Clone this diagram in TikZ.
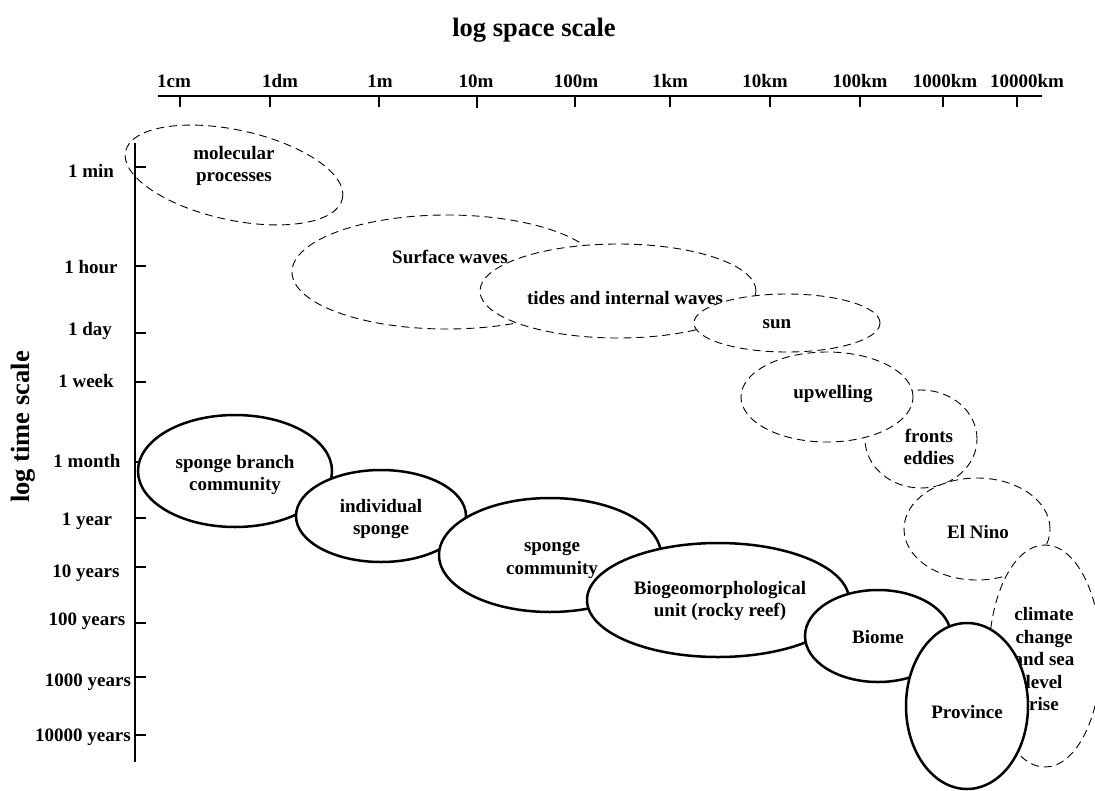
\documentclass[tikz,border=0pt]{standalone}
\usepackage{fontspec}
\setmainfont{Liberation Serif}

\begin{document}
\begin{tikzpicture}[
  x=1pt, y=-1pt,
  lbl/.style={font=\fontsize{19}{22.5}\selectfont\bfseries, align=center, inner sep=0pt},
  ttl/.style={font=\fontsize{26.5}{30}\selectfont\bfseries, inner sep=0pt},
  axis/.style={line width=2.6pt},
  proc/.style={draw=black, fill=white, line width=0.9pt, dash pattern=on 8pt off 5pt},
  habitat/.style={draw=black, fill=white, line width=2.5pt}
]
\useasboundingbox (0,0) rectangle (1095,790);

% Titles
\node[ttl] (xtitle) at (534,30) {log space scale};
\node[ttl, rotate=90] (ytitle) at (23,427) {log time scale};

% Physical processes (dashed)
\path[proc] (234,175) ellipse [x radius=111pt, y radius=45pt, rotate=-12.3];
\node[lbl] (molec) at (234,166) {molecular\\processes};

% Space axis
\draw[axis] (158,96) -- (1042,96);
\draw[axis] (180,96) -- (180,107);
\draw[axis] (270,96) -- (270,107);
\draw[axis] (379,96) -- (379,107);
\draw[axis] (477,96) -- (477,108);
\draw[axis] (575,96) -- (575,107);
\draw[axis] (670,96) -- (670,107);
\draw[axis] (770,96) -- (770,107);
\draw[axis] (860,96) -- (860,107);
\draw[axis] (943,96) -- (943,107);
\draw[axis] (1017,96) -- (1017,107);
\node[lbl, anchor=base] (cm) at (174,87) {1cm};
\node[lbl, anchor=base] (dm) at (280,87) {1dm};
\node[lbl, anchor=base] (m1) at (380,87) {1m};
\node[lbl, anchor=base] (m10) at (476,87) {10m};
\node[lbl, anchor=base] (m100) at (576,87) {100m};
\node[lbl, anchor=base] (km1) at (670,87) {1km};
\node[lbl, anchor=base] (km10) at (765,87) {10km};
\node[lbl, anchor=base] (km100) at (860,87) {100km};
\node[lbl, anchor=base] (km1000) at (945,87) {1000km};
\node[lbl, anchor=base] (km10000) at (1027,87) {10000km};

% Time axis
\draw[axis] (135,143) -- (135,762);
\draw[axis] (135,167) -- (146,167);
\draw[axis] (135,266) -- (146,266);
\draw[axis] (135,333) -- (146,333);
\draw[axis] (135,382) -- (146,382);
\draw[axis] (135,462) -- (146,462);
\draw[axis] (135,518) -- (146,518);
\draw[axis] (135,567) -- (146,567);
\draw[axis] (135,623) -- (146,623);
\draw[axis] (135,677) -- (146,677);
\draw[axis] (135,735) -- (146,735);
\node[lbl, anchor=base] (tmin) at (91,177) {1 min};
\node[lbl, anchor=base] (thour) at (91,273) {1 hour};
\node[lbl, anchor=base] (tday) at (90,335) {1 day};
\node[lbl, anchor=base] (tweek) at (86,387) {1 week};
\node[lbl, anchor=base] (tmonth) at (87,467) {1 month};
\node[lbl, anchor=base] (tyear) at (87,525) {1 year};
\node[lbl, anchor=base] (tyr10) at (86,577) {10 years};
\node[lbl, anchor=base] (tyr100) at (87,625) {100 years};
\node[lbl, anchor=base] (tyr1000) at (88,686) {1000 years};
\node[lbl, anchor=base] (tyr10000) at (83,741) {10000 years};

% More physical processes
\path[proc] (447,272) ellipse [x radius=155pt, y radius=57pt];
\node[lbl] (surf) at (450,257) {Surface waves};
\path[proc] (618,291) ellipse [x radius=138pt, y radius=47pt];
\node[lbl] (tides) at (625,298) {tides and internal waves};
\path[proc] (787,323) ellipse [x radius=93pt, y radius=29pt];
\node[lbl] (sun) at (777,324) {sun};
\path[proc] (921,439) ellipse [x radius=56pt, y radius=49pt];
\node[lbl] (fronts) at (929,447) {fronts\\eddies};
\path[proc] (827,397) ellipse [x radius=86pt, y radius=45pt];
\node[lbl] (upwell) at (833,394) {upwelling};
\path[proc] (977,529) ellipse [x radius=73pt, y radius=51pt];
\node[lbl] (nino) at (978,532) {El Nino};
\path[proc] (1045,656) ellipse [x radius=56pt, y radius=111pt];
\node[lbl] (climate) at (1044,659) {climate\\change\\and sea\\level\\rise};

% Sponge habitat hierarchy (solid)
\path[habitat] (235,471) ellipse [x radius=97pt, y radius=56pt];
\node[lbl] (branch) at (235,475) {sponge branch\\community};
\path[habitat] (381,516) ellipse [x radius=85pt, y radius=46pt];
\node[lbl] (indiv) at (381,519) {individual\\sponge};
\path[habitat] (550,555) ellipse [x radius=111pt, y radius=57pt];
\node[lbl] (spcomm) at (552,560) {sponge\\community};
\path[habitat] (718,600) ellipse [x radius=131pt, y radius=57pt];
\node[lbl] (biogeo) at (720,601) {Biogeomorphological\\unit (rocky reef)};
\path[habitat] (878,636) ellipse [x radius=73pt, y radius=46pt];
\node[lbl] (biome) at (878,637) {Biome};
\path[habitat] (967,706) ellipse [x radius=61pt, y radius=83pt];
\node[lbl] (province) at (967,712) {Province};

\end{tikzpicture}
\end{document}
